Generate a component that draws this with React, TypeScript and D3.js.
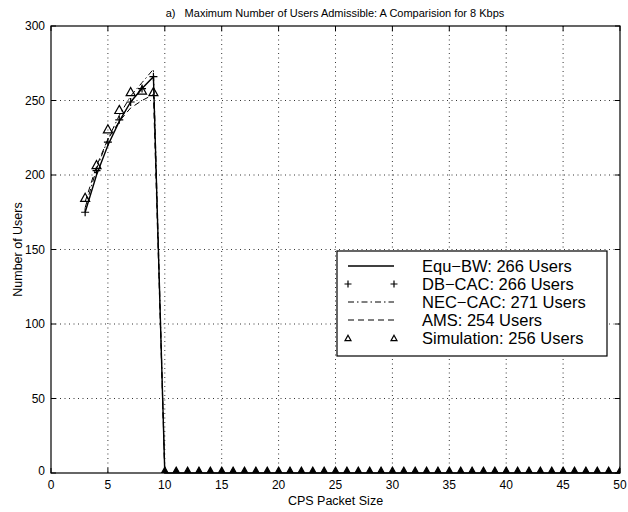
import React from "react";
import * as d3 from "d3";

const packetSizes = [3, 4, 5, 6, 7, 8, 9];
const equBW = [175, 200, 220, 236, 249, 258, 266];
const dbCAC = [175, 203, 222, 237, 249, 258, 266];
const necCAC = [178, 204, 224, 240, 253, 262, 271];
const ams = [182, 206, 224, 236, 245, 250, 254];
const simulation = [185, 207, 231, 244, 256, 257, 256];
const tailSizes = d3.range(10, 51);
const tailValue = 0;

const xTicks = [0, 5, 10, 15, 20, 25, 30, 35, 40, 45, 50];
const yTicks = [0, 50, 100, 150, 200, 250, 300];

const legendLabels = [
  "Equ\u2212BW: 266 Users",
  "DB\u2212CAC: 266 Users",
  "NEC\u2212CAC: 271 Users",
  "AMS: 254 Users",
  "Simulation: 256 Users",
];

const title = "a)\u00a0\u00a0\u00a0Maximum Number of Users Admissible: A Comparision for 8 Kbps";
const xLabel = "CPS Packet Size";
const yLabel = "Number of Users";

const W = 628;
const H = 512;
const L = 51, R = 620, T = 26, B = 473;
const FONT = "'Liberation Sans', Arial, Helvetica, sans-serif";

type P = [number, number];

function tri(cx: number, cy: number, s: number) {
  const h = s * 0.9;
  return `M${cx},${cy - h / 2}L${cx + s / 2},${cy + h / 2}L${cx - s / 2},${cy + h / 2}Z`;
}

export default function App() {
  const x = d3.scaleLinear().domain([0, 50]).range([L, R]);
  const y = d3.scaleLinear().domain([0, 300]).range([B, T]);
  const line = d3.line<P>().x((d) => x(d[0])).y((d) => y(d[1]));

  const zip = (vals: number[]): P[] => packetSizes.map((p, i) => [p, vals[i]] as P);
  const tail: P[] = tailSizes.map((t) => [t, tailValue] as P);

  const equPts = [...zip(equBW), ...tail];
  const necPts = [...zip(necCAC), [10, tailValue] as P];
  const amsPts = [...zip(ams), [10, tailValue] as P];
  const dbPts = zip(dbCAC);
  const simPts = [...zip(simulation), ...tail];

  const lg = { x0: 337, y0: 251, x1: 607, y1: 356 };
  const rowY = (i: number) => 266 + i * 18;
  const sx0 = 348, sx1 = 394, tx = 422;

  return (
    <svg width={W} height={H} style={{ position: "absolute", left: 0, top: 0, background: "#fff" }}
      fontFamily={FONT}>
      <defs>
        <clipPath id="plot">
          <rect x={L} y={T} width={R - L} height={B - T} />
        </clipPath>
      </defs>
      <rect x={0} y={0} width={W} height={H} fill="#fff" />
      {/* grid */}
      <g stroke="#000" strokeWidth={0.8} strokeDasharray="1,3.5">
        {xTicks.slice(1, -1).map((t) => (
          <line key={"gx" + t} x1={x(t)} x2={x(t)} y1={T} y2={B} />
        ))}
        {yTicks.slice(1, -1).map((t) => (
          <line key={"gy" + t} x1={L} x2={R} y1={y(t)} y2={y(t)} />
        ))}
      </g>
      {/* box */}
      <rect x={L} y={T} width={R - L} height={B - T} fill="none" stroke="#000" strokeWidth={1.2} />
      {/* ticks */}
      <g stroke="#000" strokeWidth={1}>
        {xTicks.map((t) => (
          <g key={"tx" + t}>
            <line x1={x(t)} x2={x(t)} y1={B} y2={B - 5} />
            <line x1={x(t)} x2={x(t)} y1={T} y2={T + 5} />
          </g>
        ))}
        {yTicks.map((t) => (
          <g key={"ty" + t}>
            <line x1={L} x2={L + 5} y1={y(t)} y2={y(t)} />
            <line x1={R} x2={R - 5} y1={y(t)} y2={y(t)} />
          </g>
        ))}
      </g>
      {/* tick labels */}
      <g fontSize={12} fill="#000">
        {xTicks.map((t) => (
          <text key={"lx" + t} x={x(t)} y={489} textAnchor="middle">{t}</text>
        ))}
        {yTicks.map((t) => (
          <text key={"ly" + t} x={L - 6} y={y(t) + (t === 0 ? 2 : 4)} textAnchor="end">{t}</text>
        ))}
      </g>
      <text x={(L + R) / 2} y={505} textAnchor="middle" fontSize={12.5}>{xLabel}</text>
      <text transform={`translate(22,${(T + B) / 2}) rotate(-90)`} textAnchor="middle" fontSize={12.5}>{yLabel}</text>
      <text x={335} y={17} textAnchor="middle" fontSize={11}>{title}</text>

      {/* series */}
      <g fill="none" stroke="#000">
        <path d={line(equPts) || ""} strokeWidth={1.4} />
        <path d={line(necPts) || ""} strokeWidth={1} strokeDasharray="6,3,1.5,3" />
        <path d={line(amsPts) || ""} strokeWidth={1} strokeDasharray="6,4" />
        {dbPts.map((d, i) => (
          <path key={"db" + i} strokeWidth={1.2}
            d={`M${x(d[0]) - 4},${y(d[1])}H${x(d[0]) + 4}M${x(d[0])},${y(d[1]) - 4}V${y(d[1]) + 4}`} />
        ))}
        <g clipPath="url(#plot)">
          {simPts.map((d, i) => (
            <path key={"sim" + i} d={tri(x(d[0]), y(d[1]), d[1] === tailValue ? 13 : 9)} strokeWidth={1.2}
              fill={d[1] === tailValue ? "#000" : "none"} />
          ))}
        </g>
      </g>

      {/* legend */}
      <rect x={lg.x0} y={lg.y0} width={lg.x1 - lg.x0} height={lg.y1 - lg.y0} fill="#fff" stroke="#000" strokeWidth={1.2} />
      <g stroke="#000" fill="none">
        <line x1={sx0} x2={sx1} y1={rowY(0)} y2={rowY(0)} strokeWidth={1.4} />
        {[sx0, sx1].map((px) => (
          <path key={"lp" + px} strokeWidth={1.2}
            d={`M${px - 3.5},${rowY(1)}H${px + 3.5}M${px},${rowY(1) - 3.5}V${rowY(1) + 3.5}`} />
        ))}
        <line x1={sx0} x2={sx1} y1={rowY(2)} y2={rowY(2)} strokeWidth={1} strokeDasharray="6,3,1.5,3" />
        <line x1={sx0} x2={sx1} y1={rowY(3)} y2={rowY(3)} strokeWidth={1} strokeDasharray="6,4" />
        {[sx0, sx1].map((px) => (
          <path key={"lt" + px} d={tri(px, rowY(4), 6)} strokeWidth={1.2} />
        ))}
      </g>
      <g fontSize={16.5} fill="#000">
        {legendLabels.map((s, i) => (
          <text key={s} x={tx} y={rowY(i) + 6}>{s}</text>
        ))}
      </g>
    </svg>
  );
}
